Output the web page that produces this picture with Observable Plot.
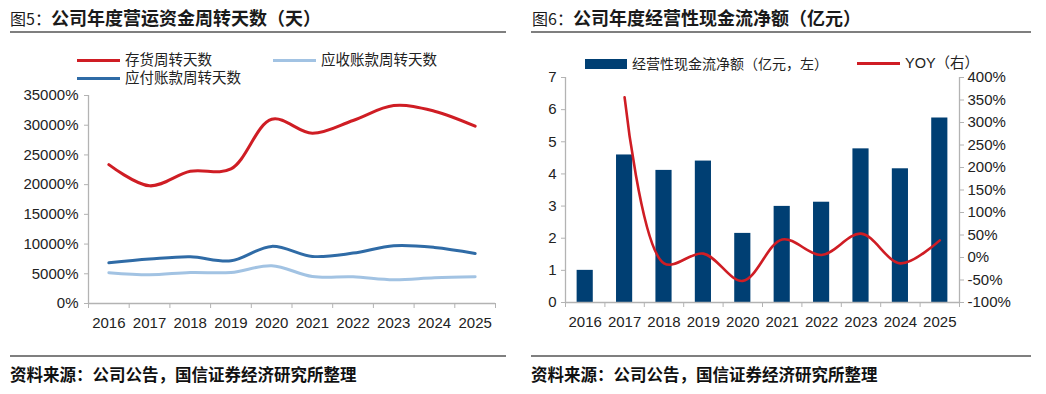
<!DOCTYPE html>
<html>
<head>
<meta charset="utf-8">
<script src="https://cdn.jsdelivr.net/npm/d3@7"></script>
<script src="https://cdn.jsdelivr.net/npm/@observablehq/plot@0.6"></script>
<style>
  html, body { margin: 0; padding: 0; background: #fff; }
  #root { position: relative; width: 1046px; height: 394px; background: #fff; overflow: hidden;
          font-family: "Liberation Sans", "Noto Sans CJK SC", sans-serif; color: #222; }
  .abs { position: absolute; white-space: nowrap; }
  .title { font-family: "Noto Sans CJK SC", sans-serif; font-size: 18px; font-weight: 700; color: #1a1a1a; line-height: 22px; }
  .title .fig { font-size: 16px; font-weight: 400; }
  .rule { position: absolute; height: 2px; background: #7f7f7f; }
  .src { font-family: "Noto Sans CJK SC", sans-serif; font-size: 16.5px; font-weight: 700; color: #111; line-height: 20px; }
  .leg { font-family: "Liberation Sans", "Noto Sans CJK SC", sans-serif; font-size: 14.5px; color: #222; line-height: 16px; }
  .sw { position: absolute; }
</style>
</head>
<body>
<div id="root"></div>
<script>
// ---- data ----
const years = [2016, 2017, 2018, 2019, 2020, 2021, 2022, 2023, 2024, 2025];
const inventoryDays = [23370, 19800, 22250, 22640, 31000, 28650, 30800, 33300, 32360, 29830];
const receivableDays = [5170, 4830, 5220, 5220, 6350, 4550, 4490, 3990, 4330, 4490];
const payableDays = [6850, 7470, 7870, 7190, 9610, 7920, 8480, 9720, 9440, 8430];
const cashFlow = [1.00, 4.59, 4.11, 4.40, 2.15, 2.99, 3.12, 4.78, 4.16, 5.74];
const yoy = [null, 356, -13, 8.6, -52, 40, 5.6, 53, -13, 38];
const leftTicks = [0, 5000, 10000, 15000, 20000, 25000, 30000, 35000];
const cashTicks = [0, 1, 2, 3, 4, 5, 6, 7];
const yoyTicks = [-100, -50, 0, 50, 100, 150, 200, 250, 300, 350, 400];

const title1 = "公司年度营运资金周转天数（天）";
const title2 = "公司年度经营性现金流净额（亿元）";
const source = "资料来源：公司公告，国信证券经济研究所整理";
const seriesNames1 = ["存货周转天数", "应收账款周转天数", "应付账款周转天数"];
const seriesNames2 = ["经营性现金流净额（亿元，左）", "YOY（右）"];

const RED = "#cf1d24", DARKBLUE = "#2f6ba6", LIGHTBLUE = "#a2c3e3", NAVY = "#003f73", AXIS = "#b3b3b3";

const root = document.getElementById("root");
function el(html) { const d = document.createElement("div"); d.innerHTML = html; const n = d.firstElementChild; root.appendChild(n); return n; }

// titles and rules
el(`<div class="abs title" style="left:10px;top:6px"><span class="fig">图5：</span>${title1}</div>`);
el(`<div class="rule" style="left:10px;top:31px;width:496px"></div>`);
el(`<div class="abs title" style="left:532px;top:6px"><span class="fig">图6：</span>${title2}</div>`);
el(`<div class="rule" style="left:531px;top:31px;width:500px"></div>`);
el(`<div class="rule" style="left:10px;top:355px;width:496px"></div>`);
el(`<div class="rule" style="left:531px;top:355px;width:500px"></div>`);
el(`<div class="abs src" style="left:10px;top:364px">${source}</div>`);
el(`<div class="abs src" style="left:531px;top:364px">${source}</div>`);

// legends left
const leg1 = [
  {name: seriesNames1[0], color: RED, x: 77, y: 60},
  {name: seriesNames1[1], color: LIGHTBLUE, x: 273, y: 60},
  {name: seriesNames1[2], color: DARKBLUE, x: 77, y: 78}
];
for (const l of leg1) {
  el(`<div class="sw" style="left:${l.x}px;top:${l.y - 1.5}px;width:43px;height:3px;background:${l.color}"></div>`);
  el(`<div class="abs leg" style="left:${l.x + 48}px;top:${l.y - 8}px">${l.name}</div>`);
}
// legends right
el(`<div class="sw" style="left:585px;top:59px;width:42px;height:10px;background:${NAVY}"></div>`);
el(`<div class="abs leg" style="left:632px;top:56px;font-size:14px">${seriesNames2[0]}</div>`);
el(`<div class="sw" style="left:857px;top:62px;width:43px;height:2.5px;background:${RED}"></div>`);
el(`<div class="abs leg" style="left:905px;top:55px">${seriesNames2[1]}</div>`);

const bounds = years.map(y => y - 0.5).concat([years[years.length - 1] + 0.5]);
const fontFamily = "Liberation Sans, Noto Sans CJK SC, sans-serif";

// ---- chart 1 ----
const rows1 = [];
years.forEach((y, i) => {
  rows1.push({year: y, v: inventoryDays[i], s: seriesNames1[0]});
  rows1.push({year: y, v: receivableDays[i], s: seriesNames1[1]});
  rows1.push({year: y, v: payableDays[i], s: seriesNames1[2]});
});
const chart1 = Plot.plot({
  width: 520, height: 300,
  marginLeft: 88, marginRight: 25, marginTop: 55, marginBottom: 37,
  style: {fontFamily, fontSize: "15px", background: "transparent", overflow: "visible"},
  x: {domain: [2015.5, 2025.5], label: null},
  y: {domain: [0, 35000], label: null},
  color: {domain: seriesNames1, range: [RED, LIGHTBLUE, DARKBLUE]},
  marks: [
    Plot.ruleX([2015.5], {stroke: AXIS, strokeWidth: 1.3}),
    Plot.ruleY([0], {stroke: AXIS, strokeWidth: 1.3}),
    Plot.axisY({ticks: leftTicks, tickSize: 4, tickPadding: 6, stroke: AXIS, fill: "#222", tickFormat: d => d + "%", label: null}),
    Plot.axisX({ticks: bounds, tickSize: 5, stroke: AXIS, tickFormat: () => "", label: null}),
    Plot.axisX({ticks: years, tickSize: 0, tickPadding: 14, fill: "#222", tickFormat: d => `${d}`, label: null}),
    Plot.line(rows1, {x: "year", y: "v", z: "s", stroke: "s", strokeWidth: 3, curve: "catmull-rom"})
  ]
});
chart1.style.position = "absolute";
chart1.style.left = "0px";
chart1.style.top = "40px";
root.appendChild(chart1);

// ---- chart 2 ----
const toLeft = p => (p + 100) * 7 / 500;
const bars = years.map((y, i) => ({year: y, v: cashFlow[i]}));
const yoyRows = years.map((y, i) => ({year: y, p: yoy[i]})).filter(d => d.p != null);
const chart2 = Plot.plot({
  width: 526, height: 300,
  marginLeft: 45, marginRight: 87, marginTop: 37, marginBottom: 38,
  style: {fontFamily, fontSize: "15px", background: "transparent", overflow: "visible"},
  x: {domain: [2015.5, 2025.5], label: null},
  y: {domain: [0, 7], label: null},
  marks: [
    Plot.rectY(bars, {x1: d => d.year - 0.205, x2: d => d.year + 0.205, y1: 0, y2: "v", fill: NAVY}),
    Plot.ruleX([2015.5, 2025.5], {stroke: AXIS, strokeWidth: 1.3}),
    Plot.ruleY([0], {stroke: AXIS, strokeWidth: 1.3}),
    Plot.axisY({ticks: cashTicks, tickSize: 4, tickPadding: 5, stroke: AXIS, fill: "#222", tickFormat: d => `${d}`, label: null}),
    Plot.axisY({anchor: "right", ticks: yoyTicks.map(toLeft), tickSize: 4, tickPadding: 4, stroke: AXIS, fill: "#222",
      tickFormat: v => Math.round(v * 500 / 7 - 100) + "%", label: null}),
    Plot.axisX({ticks: bounds, tickSize: 5, stroke: AXIS, tickFormat: () => "", label: null}),
    Plot.axisX({ticks: years, tickSize: 0, tickPadding: 14, fill: "#222", tickFormat: d => `${d}`, label: null}),
    Plot.line(yoyRows, {x: "year", y: d => toLeft(d.p), stroke: RED, strokeWidth: 2.6, curve: "catmull-rom"})
  ]
});
chart2.style.position = "absolute";
chart2.style.left = "520px";
chart2.style.top = "40px";
root.appendChild(chart2);
</script>
</body>
</html>
